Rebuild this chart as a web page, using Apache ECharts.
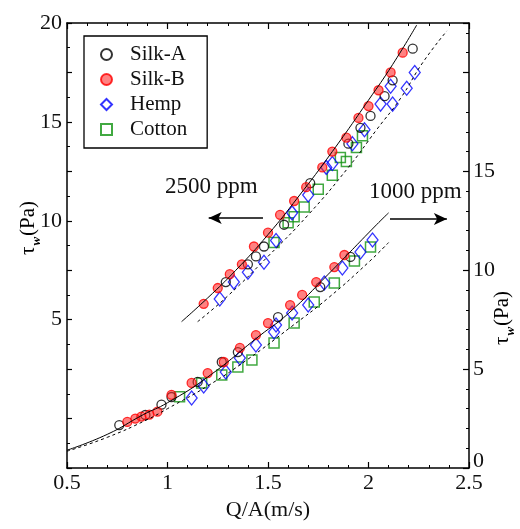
<!DOCTYPE html>
<html>
<head>
<meta charset="utf-8">
<script src="https://cdn.jsdelivr.net/npm/echarts@6/dist/echarts.min.js"></script>
<style>html,body{margin:0;padding:0;background:#fff;}#c{width:520px;height:529px;}</style>
</head>
<body>
<div id="c"></div>
<script>
// ---- tick labels ----
const xTickLabels = ['0.5', '1', '1.5', '2', '2.5'];
const leftTickLabels = [5, 10, 15, 20];
const rightTickLabels = [0, 5, 10, 15];
const legendNames = ['Silk-A', 'Silk-B', 'Hemp', 'Cotton'];

// ---- 2500 ppm (left axis) ----
const silkA_2500 = [[1.29,6.9],[1.40,7.8],[1.44,8.2],[1.48,8.7],[1.58,9.8],[1.71,11.9],[1.90,13.9],[1.96,14.7],[2.01,15.3],[2.08,16.3],[2.12,17.1],[2.22,18.7]];
const silkB_2500 = [[1.18,5.8],[1.25,6.6],[1.31,7.3],[1.37,7.8],[1.43,8.7],[1.50,9.4],[1.56,10.3],[1.63,11.0],[1.69,11.7],[1.77,12.7],[1.82,13.5],[1.89,14.2],[1.95,15.2],[2.00,15.8],[2.05,16.6],[2.11,17.5],[2.17,18.5]];
const hemp_2500 = [[1.26,6.05],[1.33,6.9],[1.40,7.4],[1.48,7.9],[1.54,9.0],[1.62,10.4],[1.70,11.3],[1.79,12.7],[1.82,12.9],[1.92,13.9],[1.98,14.6],[2.06,15.9],[2.11,16.8],[2.12,15.9],[2.19,16.7],[2.23,17.5]];
const cotton_2500 = [[1.53,8.9],[1.60,9.9],[1.63,10.2],[1.68,10.7],[1.75,11.6],[1.82,12.3],[1.86,13.2],[1.89,13.0],[1.94,13.7],[1.97,14.3]];
const solid_2500 = [[1.07,4.9],[1.2,6.1],[1.34,7.5],[1.5,9.3],[1.65,11.2],[1.82,13.5],[2.0,16.1],[2.12,17.9],[2.24,19.9]];
const dashed_2500 = [[1.15,4.9],[1.3,6.2],[1.5,8.2],[1.7,10.3],[1.9,12.7],[2.04,14.6],[2.16,16.2],[2.27,18.0],[2.39,19.6]];

// ---- 1000 ppm (right axis) ----
const silkA_1000 = [[0.76,2.17],[0.89,2.68],[0.97,3.2],[1.02,3.59],[1.15,4.35],[1.27,5.36],[1.35,5.86],[1.55,7.63],[1.76,9.15],[1.91,10.67]];
const silkB_1000 = [[0.80,2.33],[0.84,2.5],[0.87,2.6],[0.91,2.7],[0.95,2.85],[1.02,3.7],[1.12,4.3],[1.20,4.8],[1.28,5.36],[1.36,6.07],[1.44,6.72],[1.50,7.33],[1.61,8.24],[1.67,8.75],[1.74,9.4],[1.83,10.16],[1.88,10.77]];
const hemp_1000 = [[1.12,3.54],[1.18,4.15],[1.29,4.85],[1.36,5.56],[1.44,6.22],[1.53,6.88],[1.54,7.23],[1.62,7.84],[1.70,8.24],[1.78,9.35],[1.87,10.11],[1.96,10.92],[2.02,11.53]];
const cotton_1000 = [[1.06,3.6],[1.17,4.3],[1.27,4.7],[1.35,5.11],[1.42,5.46],[1.53,6.32],[1.63,7.33],[1.73,8.39],[1.83,9.35],[1.93,10.47],[2.01,11.17]];
const solid_1000 = [[0.5,0.9],[0.7,1.7],[0.88,2.7],[1.0,3.3],[1.2,4.6],[1.46,6.7],[1.6,7.8],[1.8,9.8],[2.04,12.3],[2.1,12.9]];
const dashed_1000 = [[0.5,0.85],[0.7,1.55],[0.9,2.45],[1.0,3.0],[1.2,4.15],[1.4,5.5],[1.61,7.1],[1.8,8.6],[2.0,10.4],[2.1,11.4]];

// arrow annotation positions (data coords, left axis)
const arrow2500 = [[1.475, 10.14], [1.205, 10.14]];
const arrow1000 = [[2.107, 10.09], [2.39, 10.09]];

const FONT = 'Liberation Serif';
const TXT = '#111';

const styles = {
  'Silk-A': { symbol: 'circle', symbolSize: 9, itemStyle: { color: 'rgba(255,255,255,0)', borderColor: '#000', borderWidth: 1.3 } },
  'Silk-B': { symbol: 'circle', symbolSize: 9, itemStyle: { color: 'rgba(255,30,30,0.7)', borderColor: '#ff0000', borderWidth: 1.3 } },
  'Hemp':   { symbol: 'diamond', symbolSize: [11, 14], itemStyle: { color: 'rgba(255,255,255,0)', borderColor: '#0000ff', borderWidth: 1.3 } },
  'Cotton': { symbol: 'rect', symbolSize: 10, itemStyle: { color: 'rgba(255,255,255,0)', borderColor: '#129412', borderWidth: 1.5 } }
};

function scatter(name, data, yIdx) {
  return Object.assign({ type: 'scatter', name: name, yAxisIndex: yIdx, data: data, z: 3 }, JSON.parse(JSON.stringify(styles[name])));
}
function fit(name, data, yIdx, dashed) {
  return { type: 'line', name: name, yAxisIndex: yIdx, data: data, smooth: true, symbol: 'none', z: 4,
    lineStyle: { color: '#000', width: 1, type: dashed ? [3, 3] : 'solid' } };
}

const xAxisBase = {
  type: 'value', min: 0.5, max: 2.5, interval: 0.5,
  axisLine: { show: true, onZero: false, lineStyle: { color: '#000', width: 1.5 } },
  axisTick: { show: true, inside: true, length: 6, lineStyle: { color: '#000', width: 1.2 } },
  minorTick: { show: true, splitNumber: 5, length: 3, lineStyle: { color: '#000', width: 1 } },
  splitLine: { show: false }
};

const ySubRich = { t: { fontFamily: FONT, fontSize: 21, color: TXT }, w: { fontFamily: FONT, fontSize: 13, fontWeight: 'bold', fontStyle: 'italic', color: TXT, verticalAlign: 'bottom', padding: [0, 1, -5, 1] } };

const chart = echarts.init(document.getElementById('c'), null, { renderer: 'canvas' });
chart.setOption({
  animation: false,
  backgroundColor: '#fff',
  textStyle: { fontFamily: FONT },
  grid: { left: 67, right: 51, top: 23, bottom: 61 },
  legend: {
    data: legendNames, orient: 'vertical', left: 84, top: 36,
    itemWidth: 11, itemHeight: 11, itemGap: 4,
    padding: [8, 20, 8, 16],
    borderColor: '#000', borderWidth: 1.3, selectedMode: false,
    textStyle: { fontFamily: FONT, fontSize: 21, color: TXT, lineHeight: 21, padding: [0, 0, 0, 13] }
  },
  xAxis: [
    Object.assign({}, xAxisBase, {
      position: 'bottom',
      axisLabel: { show: true, margin: 5, fontFamily: FONT, fontSize: 22, lineHeight: 20, color: TXT,
        formatter: v => { const s = String(Math.round(v * 10) / 10); return xTickLabels.includes(s) ? s : ''; } },
      name: 'Q/A(m/s)', nameLocation: 'middle', nameGap: 31,
      nameTextStyle: { fontFamily: FONT, fontSize: 22, color: TXT }
    }),
    Object.assign({}, xAxisBase, { position: 'top', axisLabel: { show: false } })
  ],
  yAxis: [
    {
      type: 'value', position: 'left', min: -2.5, max: 20, interval: 2.5,
      axisLine: { show: true, onZero: false, lineStyle: { color: '#000', width: 1.5 } },
      axisTick: { show: true, inside: true, length: 5, lineStyle: { color: '#000', width: 1.2 } },
      minorTick: { show: true, splitNumber: 2, length: 3, lineStyle: { color: '#000', width: 1 } },
      splitLine: { show: false },
      axisLabel: { margin: 5, fontFamily: FONT, fontSize: 22, color: TXT,
        formatter: v => leftTickLabels.includes(v) ? String(v) : '' }
    },
    {
      type: 'value', position: 'right', min: 0, max: 22.5, interval: 5,
      axisLine: { show: true, onZero: false, lineStyle: { color: '#000', width: 1.5 } },
      axisTick: { show: true, inside: true, length: 6, lineStyle: { color: '#000', width: 1.2 } },
      minorTick: { show: true, splitNumber: 5, length: 3, lineStyle: { color: '#000', width: 1 } },
      splitLine: { show: false },
      axisLabel: { margin: 4, fontFamily: FONT, fontSize: 22, color: TXT, showMaxLabel: false,
        formatter: v => rightTickLabels.includes(v) ? (v === 0 ? '{z|0}' : String(v)) : '',
        rich: { z: { fontFamily: FONT, fontSize: 22, lineHeight: 20, color: TXT, padding: [0, 0, 14, 0] } } }
    }
  ],
  graphic: [
    { type: 'text', left: 165, top: 175, silent: true,
      style: { text: '2500 ppm', fontFamily: FONT, fontSize: 23, fill: TXT } },
    { type: 'text', left: 369, top: 180, silent: true,
      style: { text: '1000 ppm', fontFamily: FONT, fontSize: 23, fill: TXT } },
    { type: 'text', x: 28, y: 228, rotation: Math.PI / 2, silent: true,
      style: { text: '{t|τ}{w|w}{t|(Pa)}', rich: ySubRich, align: 'center', verticalAlign: 'middle' } },
    { type: 'text', x: 502, y: 318, rotation: Math.PI / 2, silent: true,
      style: { text: '{t|τ}{w|w}{t|(Pa)}', rich: ySubRich, align: 'center', verticalAlign: 'middle' } }
  ],
  series: [
    Object.assign(fit('fit-2500-solid', solid_2500, 0, false), {
      markLine: {
        silent: true, symbol: ['none', 'arrow'], symbolSize: [9, 13], precision: 3,
        label: { show: false },
        lineStyle: { color: '#000', width: 1.5, type: 'solid' },
        data: [
          [{ coord: arrow2500[0] }, { coord: arrow2500[1] }],
          [{ coord: arrow1000[0] }, { coord: arrow1000[1] }]
        ]
      }
    }),
    fit('fit-2500-dashed', dashed_2500, 0, true),
    fit('fit-1000-solid', solid_1000, 1, false),
    fit('fit-1000-dashed', dashed_1000, 1, true),
    scatter('Cotton', cotton_2500, 0),
    scatter('Hemp', hemp_2500, 0),
    scatter('Silk-A', silkA_2500, 0),
    scatter('Silk-B', silkB_2500, 0),
    scatter('Cotton', cotton_1000, 1),
    scatter('Hemp', hemp_1000, 1),
    scatter('Silk-A', silkA_1000, 1),
    scatter('Silk-B', silkB_1000, 1)
  ]
});
</script>
</body>
</html>
